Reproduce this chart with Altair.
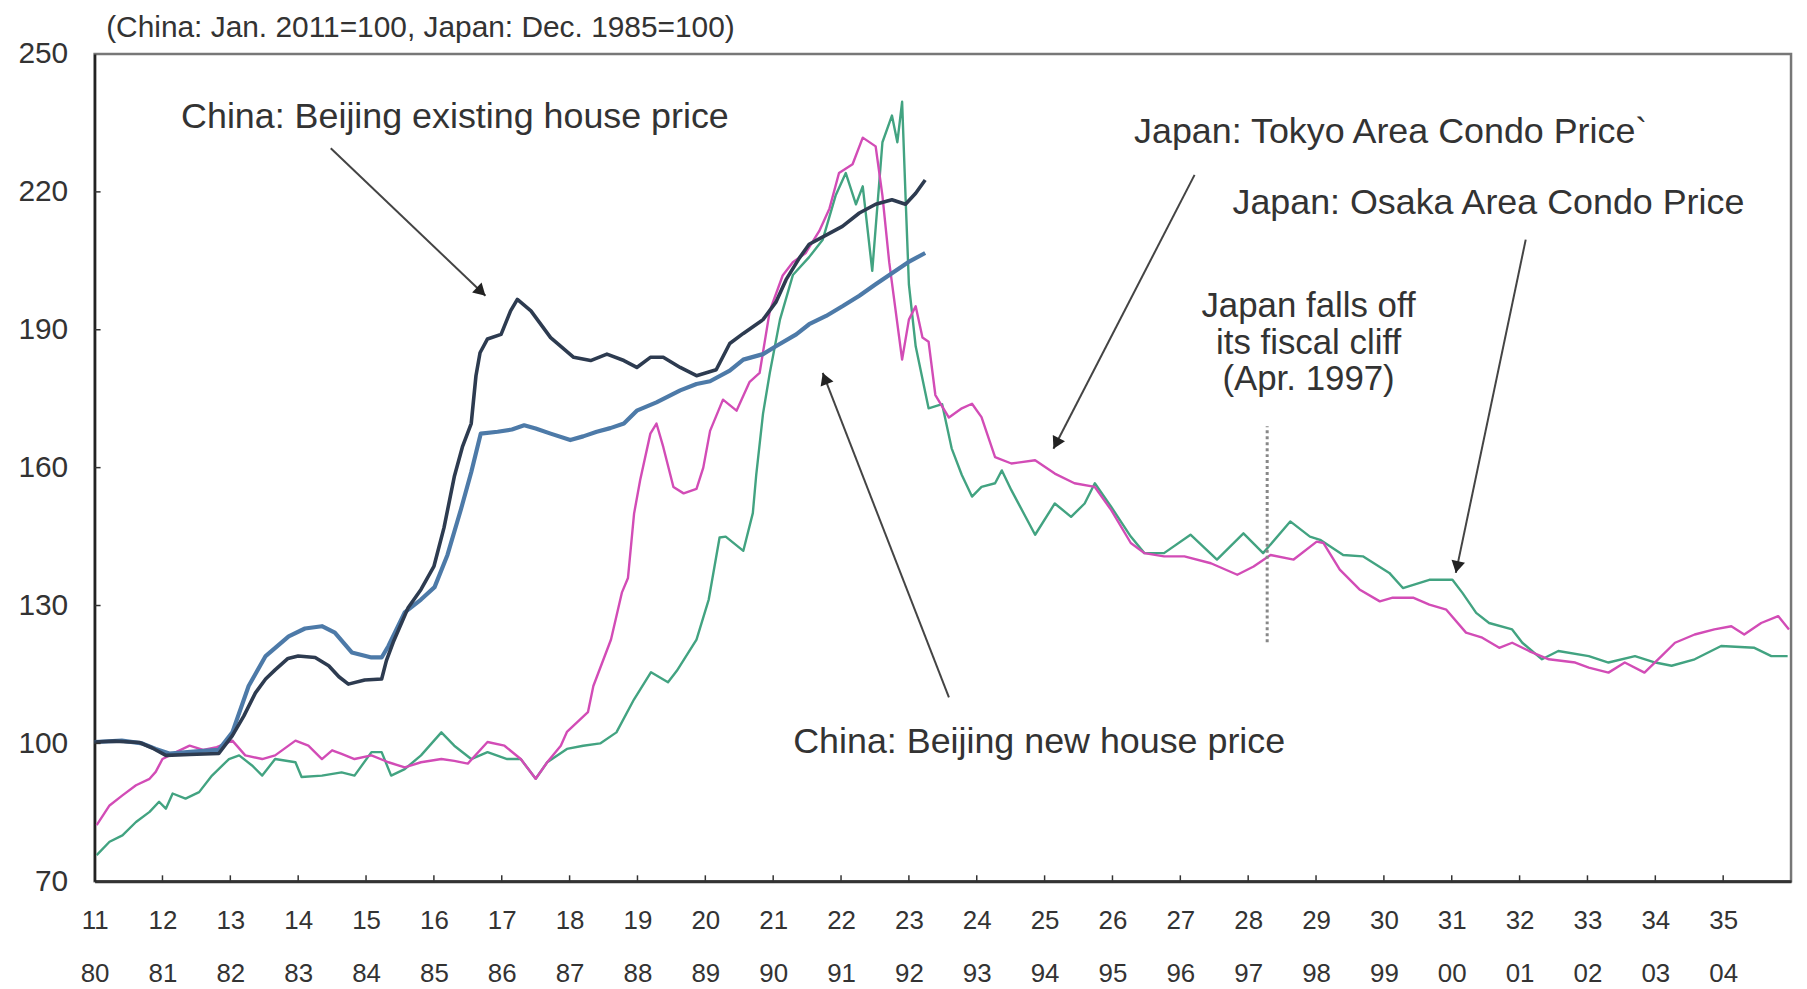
import json
import math
import altair as alt
import pandas as pd

# ---------------- data (years since Jan 2011 for China / Jan 1980 for Japan) ----------------
china_labels = ["11", "12", "13", "14", "15", "16", "17", "18", "19", "20", "21", "22", "23",
                "24", "25", "26", "27", "28", "29", "30", "31", "32", "33", "34", "35"]
japan_labels = ["80", "81", "82", "83", "84", "85", "86", "87", "88", "89", "90", "91", "92",
                "93", "94", "95", "96", "97", "98", "99", "00", "01", "02", "03", "04"]
y_ticks = [70, 100, 130, 160, 190, 220, 250]

existing_t = [0.0, 0.3, 0.66, 0.85, 1.05, 1.4, 1.83, 2.03, 2.2, 2.37, 2.52, 2.66, 2.85, 3.0, 3.25,
              3.45, 3.6, 3.74, 3.98, 4.23, 4.3, 4.4, 4.62, 4.81, 5.0, 5.15, 5.3, 5.42, 5.55, 5.62,
              5.68, 5.79, 5.99, 6.13, 6.23, 6.43, 6.72, 7.06, 7.31, 7.55, 7.8, 7.99, 8.19, 8.38,
              8.63, 8.87, 9.16, 9.36, 9.56, 9.85, 10.04, 10.19, 10.39, 10.53, 10.78, 11.02, 11.27,
              11.51, 11.75, 11.95, 12.1, 12.24]
existing_v = [100.3, 100.5, 100.2, 99.0, 97.4, 97.6, 97.8, 101.7, 106.0, 111.0, 114.0, 116.0, 118.5,
              119.0, 118.7, 116.9, 114.5, 112.9, 113.8, 114.0, 118.0, 122.0, 129.5, 133.5, 138.5,
              147.0, 158.0, 164.5, 169.6, 180.0, 185.0, 188.0, 189.0, 194.1, 196.6, 194.1, 188.3,
              184.0, 183.3, 184.7, 183.3, 181.8, 184.0, 184.0, 181.8, 180.0, 181.3, 187.0, 189.2,
              192.2, 196.0, 200.9, 205.7, 208.6, 210.6, 212.5, 215.4, 217.3, 218.3, 217.3, 219.7,
              222.6]

new_t = [0.0, 0.4, 0.7, 0.9, 1.1, 1.5, 1.83, 2.03, 2.27, 2.52, 2.86, 3.1, 3.35, 3.54, 3.79, 4.08,
         4.23, 4.33, 4.57, 4.81, 5.01, 5.2, 5.4, 5.55, 5.69, 5.94, 6.15, 6.33, 6.5, 6.72, 7.01,
         7.2, 7.4, 7.6, 7.8, 7.99, 8.28, 8.63, 8.87, 9.07, 9.36, 9.56, 9.85, 10.04, 10.34, 10.53,
         10.78, 11.02, 11.27, 11.51, 11.75, 11.99, 12.24]
new_v = [100.3, 100.6, 100.0, 98.8, 97.8, 98.3, 98.6, 102.4, 112.5, 119.0, 123.3, 125.0, 125.5,
         124.1, 119.8, 118.7, 118.7, 121.2, 128.5, 131.3, 134.0, 141.0, 151.0, 159.0, 167.4,
         167.8, 168.3, 169.2, 168.5, 167.4, 166.0, 166.8, 167.8, 168.6, 169.6, 172.4, 174.2,
         176.8, 178.2, 178.8, 181.1, 183.5, 184.7, 186.4, 189.0, 191.2, 193.0, 195.1, 197.4,
         199.9, 202.3, 204.7, 206.7]

tokyo_t = [0.03, 0.22, 0.41, 0.61, 0.81, 0.9, 1.0, 1.2, 1.4, 1.6, 1.8, 2.03, 2.22, 2.47, 2.66,
           2.96, 3.15, 3.35, 3.5, 3.64, 3.83, 4.08, 4.33, 4.57, 4.81, 5.11, 5.3, 5.5, 5.79, 6.04,
           6.28, 6.5, 6.67, 6.87, 6.96, 7.27, 7.35, 7.61, 7.77, 7.86, 7.95, 8.04, 8.19, 8.28, 8.38,
           8.53, 8.68, 8.87, 8.97, 9.07, 9.26, 9.46, 9.65, 9.8, 9.95, 10.14, 10.29, 10.48, 10.68,
           10.83, 10.97, 11.17, 11.32, 11.51, 11.61, 11.71, 11.9, 12.0, 12.1, 12.2, 12.29, 12.39,
           12.59, 12.78, 12.93, 13.07, 13.27, 13.51, 13.86, 14.15, 14.44, 14.74, 14.98, 15.27,
           15.47, 15.76, 16.06, 16.45, 16.84, 17.08, 17.33, 17.67, 18.01, 18.11, 18.35, 18.64,
           18.94, 19.13, 19.43, 19.67, 19.92, 20.21, 20.45, 20.7, 20.89, 21.14, 21.43, 21.82,
           22.02, 22.31, 22.55, 22.84, 23.09, 23.29, 23.58, 23.87, 24.12, 24.31, 24.56, 24.81,
           24.97]
tokyo_v = [82.2, 86.5, 88.7, 90.9, 92.3, 93.8, 96.6, 98.1, 99.5, 98.6, 99.2, 100.6, 97.4, 96.6,
           97.4, 100.6, 99.5, 96.6, 98.5, 97.7, 96.6, 97.4, 95.9, 94.8, 95.9, 96.6, 96.2, 95.6,
           100.3, 99.5, 96.6, 92.3, 95.9, 99.5, 102.5, 106.8, 112.5, 122.6, 132.8, 136.0, 150.0,
           157.3, 167.4, 169.6, 164.5, 155.8, 154.4, 155.4, 160.0, 168.0, 174.8, 172.4, 178.6,
           180.6, 194.1, 201.8, 204.7, 206.7, 211.5, 216.4, 224.1, 226.0, 231.8, 229.9, 219.2,
           204.7, 183.5, 192.2, 195.1, 188.3, 187.4, 175.8, 170.9, 172.9, 173.9, 171.0, 162.3,
           160.9, 161.6, 158.7, 156.6, 155.8, 150.8, 143.6, 141.4, 140.7, 140.7, 139.2, 136.7,
           138.5, 141.0, 140.0, 143.9, 143.6, 137.8, 133.5, 130.9, 131.7, 131.7, 130.2, 129.1,
           124.1, 123.0, 120.8, 121.9, 120.1, 118.3, 117.6, 116.5, 115.4, 117.6, 115.4, 119.0,
           121.9, 123.7, 124.8, 125.5, 123.7, 126.2, 127.7, 124.8]

osaka_t = [0.03, 0.22, 0.41, 0.61, 0.81, 0.95, 1.05, 1.15, 1.34, 1.54, 1.73, 1.98, 2.13, 2.32,
           2.47, 2.66, 2.96, 3.05, 3.35, 3.64, 3.83, 4.08, 4.23, 4.37, 4.57, 4.81, 5.11, 5.3,
           5.55, 5.79, 6.08, 6.28, 6.5, 6.67, 6.96, 7.2, 7.45, 7.69, 7.95, 8.2, 8.45, 8.58, 8.87,
           9.05, 9.21, 9.3, 9.56, 9.7, 9.75, 9.85, 9.95, 10.1, 10.29, 10.53, 10.73, 10.92, 11.07,
           11.22, 11.32, 11.46, 11.61, 11.75, 11.83, 11.9, 11.95, 12.0, 12.1, 12.29, 12.49, 12.63,
           12.78, 12.93, 13.07, 13.27, 13.37, 13.51, 13.86, 14.15, 14.39, 14.59, 14.74, 14.98,
           15.27, 15.47, 15.76, 16.15, 16.54, 16.93, 17.22, 17.62, 17.91, 18.06, 18.4, 18.69,
           19.08, 19.28, 19.67, 20.01, 20.16, 20.36, 20.55, 20.89, 21.04, 21.33, 21.57, 22.02,
           22.31, 22.7, 23.0, 23.24, 23.58, 23.97, 24.46, 24.71, 24.95]
osaka_v = [75.7, 78.6, 80.0, 82.9, 85.1, 87.3, 85.8, 89.1, 88.0, 89.4, 93.0, 96.6, 97.4, 95.2,
           93.0, 96.6, 95.9, 92.7, 93.0, 93.7, 93.0, 98.1, 98.1, 93.0, 94.4, 97.4, 102.4, 99.5,
           96.6, 98.1, 96.6, 96.6, 92.3, 95.9, 98.8, 99.5, 100.0, 102.4, 109.6, 115.5, 113.3,
           115.8, 122.6, 131.3, 144.8, 145.0, 141.9, 150.1, 158.4, 171.7, 180.6, 192.2, 201.9,
           205.8, 209.6, 219.2, 224.1, 217.3, 221.2, 202.8, 230.8, 236.6, 230.8, 239.6, 219.2,
           199.9, 186.4, 172.9, 173.8, 164.2, 158.4, 153.7, 155.8, 156.6, 159.4, 155.1, 145.4,
           152.2, 149.3, 152.2, 156.6, 151.5, 145.0, 141.4, 141.4, 145.4, 140.0, 145.7, 141.4,
           148.3, 145.0, 144.3, 141.0, 140.7, 137.1, 133.8, 135.6, 135.6, 132.7, 128.4, 126.2,
           124.8, 121.9, 118.3, 120.1, 119.0, 117.6, 119.0, 117.6, 116.9, 118.3, 121.2, 120.8,
           119.0, 119.0]

# annotations: arrows (tail t, tail v, tip t, tip v)
arrows = [
    (3.48, 229.5, 5.76, 197.4),    # Beijing existing
    (16.21, 223.7, 14.13, 164.1),  # Tokyo
    (21.09, 209.6, 20.06, 137.1),  # Osaka
    (12.59, 110.0, 10.73, 180.6),  # Beijing new
]
label_text = ["China: Beijing existing  house price", "Japan: Tokyo Area Condo Price`",
              "Japan: Osaka Area Condo Price", "China: Beijing new house price"]
label_t = [5.31, 19.1, 20.54, 13.92]
label_v = [236.3, 233.1, 217.6, 100.3]
cliff_text = "Japan falls off\nits fiscal cliff\n(Apr. 1997)"
cliff_label_t, cliff_label_v = 17.89, 195.2
cliff_t, cliff_v0, cliff_v1 = 17.28, 122.0, 169.0
subtitle = "(China: Jan. 2011=100, Japan: Dec. 1985=100)"
subtitle_t, subtitle_v = 0.17, 255.7

# ---------------- layout ----------------
W, H = 1704, 831
X0, X1 = 0, 25
Y0, Y1 = 70, 250
PX_T = W / (X1 - X0)
PX_V = H / (Y1 - Y0)
FONT = "Liberation Sans"
TXT = "#333333"

xs = alt.Scale(domain=[X0, X1], nice=False, zero=False)
ys = alt.Scale(domain=[Y0, Y1], nice=False, zero=False)

label_expr = "[" + json.dumps(china_labels) + "[datum.value], " + json.dumps(japan_labels) + "[datum.value]]"
x_axis = alt.Axis(values=list(range(len(china_labels))), labelExpr=label_expr, title=None,
                  grid=False, ticks=False, tickSize=0, labelFont=FONT, labelFontSize=26,
                  labelColor=TXT, labelPadding=26, labelLineHeight=54, labelFlush=False,
                  labelOverlap=False, labelBaseline="top", domainColor="#333333", domainWidth=3)
y_axis = alt.Axis(values=y_ticks, title=None, grid=False, ticks=False, tickSize=0,
                  labelFont=FONT, labelFontSize=30, labelColor=TXT, labelPadding=27,
                  domainColor="#222222", domainWidth=2.5)


def enc_x(f="t"):
    return alt.X(f + ":Q", scale=xs, axis=x_axis)


def enc_y(f="v"):
    return alt.Y(f + ":Q", scale=ys, axis=y_axis)


def line_layer(t, v, color, width):
    df = pd.DataFrame({"t": t, "v": v})
    return alt.Chart(df).mark_line(color=color, strokeWidth=width, strokeJoin="round").encode(
        x=enc_x(), y=enc_y())


osaka = line_layer(osaka_t, osaka_v, "#42a381", 2.4)
tokyo = line_layer(tokyo_t, tokyo_v, "#d24cb6", 2.4)
new = line_layer(new_t, new_v, "#4d7aa8", 4.2)
existing = line_layer(existing_t, existing_v, "#2d3b50", 3.6)

# inward ticks
xt = pd.DataFrame({"t": list(range(1, len(china_labels))), "v": Y0, "v2": Y0 + 6 / PX_V})
x_ticks = alt.Chart(xt).mark_rule(color="#333333", strokeWidth=1.5).encode(
    x=enc_x(), y=enc_y(), y2="v2:Q")
yt = pd.DataFrame({"t": X0, "t2": X0 + 6 / PX_T, "v": y_ticks[1:-1]})
y_ticks_l = alt.Chart(yt).mark_rule(color="#333333", strokeWidth=1.5).encode(
    x=enc_x(), x2="t2:Q", y=enc_y())

# dotted fiscal cliff line
cl = pd.DataFrame({"t": [cliff_t], "v": [cliff_v0], "v2": [cliff_v1]})
cliff = alt.Chart(cl).mark_rule(color="#888888", strokeWidth=3, strokeDash=[3, 3]).encode(
    x=enc_x(), y=enc_y(), y2="v2:Q")

# arrows
ar = pd.DataFrame(arrows, columns=["t", "v", "t2", "v2"])
arrow_lines = alt.Chart(ar).mark_rule(color="#444444", strokeWidth=2).encode(
    x=enc_x(), y=enc_y(), x2="t2:Q", y2="v2:Q")
heads = []
for (t0, v0, t1, v1) in arrows:
    dx = (t1 - t0) * PX_T
    dy = -(v1 - v0) * PX_V
    L = math.hypot(dx, dy)
    ux, uy = dx / L, dy / L
    ang = math.degrees(math.atan2(dx, -dy)) % 360
    heads.append({"t": t1 - 6 * ux / PX_T, "v": v1 + 6 * uy / PX_V, "angle": ang})
hd = pd.DataFrame(heads)
arrow_heads = alt.Chart(hd).mark_point(shape="triangle-up", filled=True, size=190,
                                       color="#222222", opacity=1).encode(
    x=enc_x(), y=enc_y(), angle=alt.Angle("angle:Q", scale=None))

# labels
lb = pd.DataFrame({"t": label_t, "v": label_v, "label": label_text})
labels = alt.Chart(lb).mark_text(font=FONT, fontSize=36, color=TXT, align="center",
                                 baseline="middle").encode(x=enc_x(), y=enc_y(), text="label:N")
cb = pd.DataFrame({"t": [cliff_label_t], "v": [cliff_label_v], "label": [cliff_text]})
cliff_label = alt.Chart(cb).mark_text(font=FONT, fontSize=35, color=TXT, align="center",
                                      baseline="middle", lineBreak="\n", lineHeight=37).encode(
    x=enc_x(), y=enc_y(), text="label:N")
sb = pd.DataFrame({"t": [subtitle_t], "v": [subtitle_v], "label": [subtitle]})
subtitle_text = alt.Chart(sb).mark_text(font=FONT, fontSize=30, color=TXT, align="left",
                                        baseline="middle").encode(
    x=enc_x(), y=enc_y(), text="label:N")

chart = alt.layer(
    osaka, tokyo, new, existing, x_ticks, y_ticks_l, cliff, arrow_lines, arrow_heads,
    labels, cliff_label, subtitle_text
).properties(
    width=W, height=H,
    autosize=alt.AutoSizeParams(type="none"),
    padding={"left": 87, "top": 44, "right": 8, "bottom": 106},
).configure_view(stroke="#777777", strokeWidth=2.5)

chart.save("out.html", embed_options={"renderer": "svg", "actions": False})
